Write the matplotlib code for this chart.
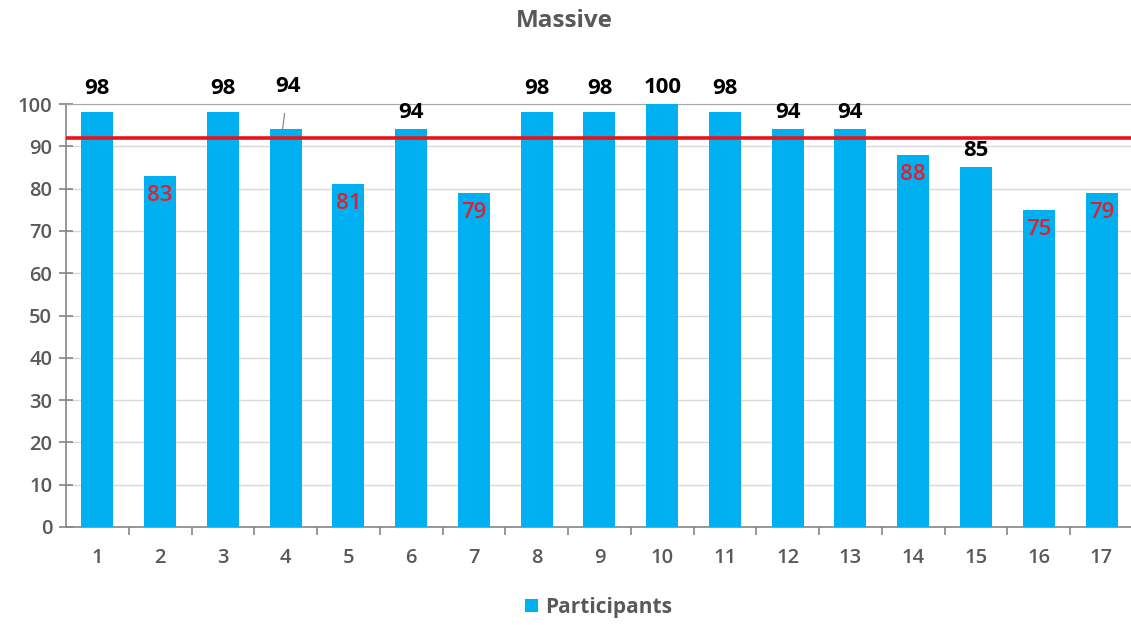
import matplotlib
matplotlib.use("Agg")

import numpy as np
import matplotlib.pyplot as plt

# scores per participant, with the target line
participants = [str(i) for i in range(1, 18)]
scores = [98, 83, 98, 94, 81, 94, 79, 98, 98, 100, 98, 94, 94, 88, 85, 75, 79]
target = 92
# labels drawn inside the bar (in red) instead of above it
inside = [2, 5, 7, 14, 16, 17]

plt.rcParams['font.family'] = ['Open Sans', 'DejaVu Sans']

fig = plt.figure(figsize=(11.31, 6.25), dpi=100)
ax = fig.add_axes([0.0584, 0.1568, 0.9416, 0.6768])

x = np.arange(1, len(scores) + 1)
bars = ax.bar(x, scores, width=0.51, color='#00b0f0', zorder=3, label='Participants')
ax.axhline(target, color='#e8141c', lw=2.6, zorder=4)

ax.set_xlim(0.5, 17.47)
ax.set_ylim(0, 100)
ax.set_yticks(range(0, 101, 10))
ax.set_xticks(x)
ax.set_xticklabels(participants)
ax.set_xticks(np.arange(1.5, 17.5, 1), minor=True)
ax.tick_params(axis='x', which='major', length=0, pad=15)
ax.tick_params(axis='x', which='minor', length=6, direction='out', color='#868686', width=1.2)
ax.tick_params(axis='y', length=10, direction='inout', color='#868686', width=1.2, pad=5)
for lab in ax.get_xticklabels() + ax.get_yticklabels():
    lab.set_color('#595959')
    lab.set_fontsize(14.5)
    lab.set_fontweight('semibold')

ax.grid(axis='y', color='#d9d9d9', lw=1, zorder=0)
ax.spines['right'].set_visible(False)
ax.spines['top'].set_color('#a6a6a6')
ax.spines['left'].set_color('#868686')
ax.spines['bottom'].set_color('#868686')
ax.spines['left'].set_linewidth(1.2)
ax.spines['bottom'].set_linewidth(1.2)

for i, v in zip(x, scores):
    if i in inside:
        ax.annotate(str(v), (i, v), xytext=(0, -14), textcoords='offset points',
                    ha='center', va='center', color='#e0202e', fontsize=16,
                    fontweight='semibold', zorder=5)
    elif i == 4:
        ax.annotate(str(v), (i - 0.05, v), xytext=(4, 31), textcoords='offset points',
                    ha='center', va='center', color='black', fontsize=16,
                    fontweight='bold', zorder=5,
                    arrowprops=dict(arrowstyle='-', color='#7f7f7f', lw=0.8,
                                    shrinkA=10, shrinkB=0))
    else:
        dy = 17 if v == 98 else 12
        ax.annotate(str(v), (i, v), xytext=(0, dy), textcoords='offset points',
                    ha='center', va='center', color='black', fontsize=16,
                    fontweight='bold', zorder=5, annotation_clip=False)

fig.text(0.499, 0.967, 'Massive', ha='center', va='center', fontsize=17.5,
         fontweight='bold', color='#595959')

ax.legend(handles=[bars], loc='center', bbox_to_anchor=(0.5, -0.19),
          frameon=False, handlelength=0.6, handleheight=0.6, handletextpad=0.35,
          prop={'size': 15, 'weight': 'bold'}, labelcolor='#595959')

fig.savefig('out.png', dpi=100)
